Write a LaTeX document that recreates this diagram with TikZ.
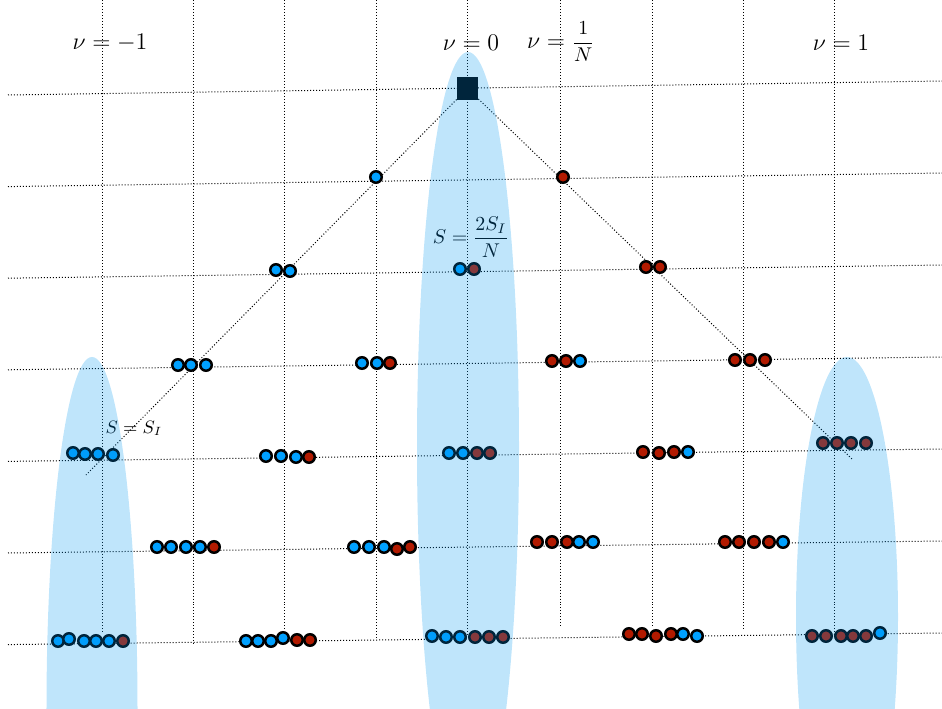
\documentclass[tikz,border=0pt]{standalone}
\definecolor{ballblue}{RGB}{0,160,255}
\definecolor{ballred}{RGB}{178,26,0}
\definecolor{hilite}{RGB}{0,150,240}
\tikzset{
  gridline/.style={densely dotted, line width=0.5bp, black},
  ball/.style={circle, draw=black, line width=1.25bp, minimum size=5.75bp, inner sep=0pt, fill=ball#1},
  hi/.style={fill=hilite, fill opacity=0.25, draw=none},
  lbl/.style={inner sep=0pt, text=black},
  topsq/.style={fill=black, draw=none, minimum width=10.5bp, minimum height=11.5bp, inner sep=0pt},
}
\begin{document}
\begin{tikzpicture}[x=0.5bp,y=-0.5bp]
\useasboundingbox (0,0) rectangle (942,709);
\clip (0,0) rectangle (942,709);

% horizontal grid lines (slightly tilted)
\foreach \k in {0,...,6}
  \draw[gridline] (8,{95+91.6*\k}) -- (942,{81+92*\k});
% vertical grid lines
\foreach \x/\b in {102/633,193/645,284/630,376/640,467/637,560/628,652/628,743/631,834/632}
  \draw[gridline] (\x,0) -- (\x,\b);

% top square and diagonals
\node[topsq] (top) at (467.5,88.5) {};
\coordinate (lend) at (86,475);
\coordinate (rend) at (852,459);
\draw[gridline] (top) -- (lend);
\draw[gridline] (top) -- (rend);

% balls
\foreach \x/\y/\c [count=\i] in {
  376/177/blue, 563/177/red,
  276/270/blue, 290/271/blue, 460/269/blue, 474/269/red, 646/267/red, 660/267/red,
  178/365/blue, 191/365/blue, 206/365/blue,
  362/363/blue, 377/363/blue, 390/363/red,
  552/361/red, 566/361/red, 580/361/blue,
  735/360/red, 750/360/red, 765/360/red,
  73/453/blue, 85/454/blue, 98/454/blue, 113/455/blue,
  266/456/blue, 281/456/blue, 296/457/blue, 309/457/red,
  449/453/blue, 463/453/blue, 477/453/red, 490/453/red,
  643/452/red, 659/453/red, 674/452/red, 688/452/blue,
  823/443/red, 837/443/red, 851/443/red, 866/443/red,
  157/547/blue, 171/547/blue, 186/547/blue, 200/547/blue, 214/547/red,
  354/547/blue, 369/547/blue, 384/547/blue, 397/549/red, 410/547/red,
  537/542/red, 552/542/red, 567/542/red, 579/542/blue, 593/542/blue,
  725/542/red, 739/542/red, 754/542/red, 769/542/red, 783/542/blue,
  58/641/blue, 69/639/blue, 84/641/blue, 96/641/blue, 109/641/blue, 123/641/red,
  246/641/blue, 258/641/blue, 271/641/blue, 283/638/blue, 297/640/red, 310/640/red,
  432/636/blue, 446/637/blue, 460/637/blue, 475/637/red, 489/637/red, 503/637/red,
  629/634/red, 642/634/red, 656/636/red, 671/634/red, 683/634/blue, 697/636/blue,
  812/636/red, 826/636/red, 841/636/red, 853/636/red, 866/636/red, 880/633/blue}
  \node[ball=\c] (b\i) at (\x,\y) {};

% labels
\node[lbl, font=\fontsize{12}{14}\selectfont] (num1) at (110,43) {$\nu=-1$};
\node[lbl, font=\fontsize{12}{14}\selectfont] (nzero) at (471,43) {$\nu=0$};
\node[lbl] (ninv) at (561,42) {{\fontsize{12}{14}\selectfont$\nu=\;$}{\fontsize{10}{12}\selectfont$\displaystyle\frac{1}{N}$}};
\node[lbl, font=\fontsize{12}{14}\selectfont] (none) at (841,43) {$\nu=1$};
\node[lbl, font=\fontsize{10}{12}\selectfont] (stwo) at (471,237) {$\displaystyle S=\frac{2S_I}{N}$};
\node[lbl, font=\fontsize{9}{11}\selectfont] (sone) at (134,428) {$S=S_I$};

% highlight ellipses (on top, translucent)
\fill[hi] (468,447) ellipse [x radius=25.5bp, y radius=197.5bp];
\fill[hi] (92,709) ellipse [x radius=22.75bp, y radius=176bp];
\fill[hi] (847,617) ellipse [x radius=25.5bp, y radius=130bp];
\end{tikzpicture}
\end{document}
